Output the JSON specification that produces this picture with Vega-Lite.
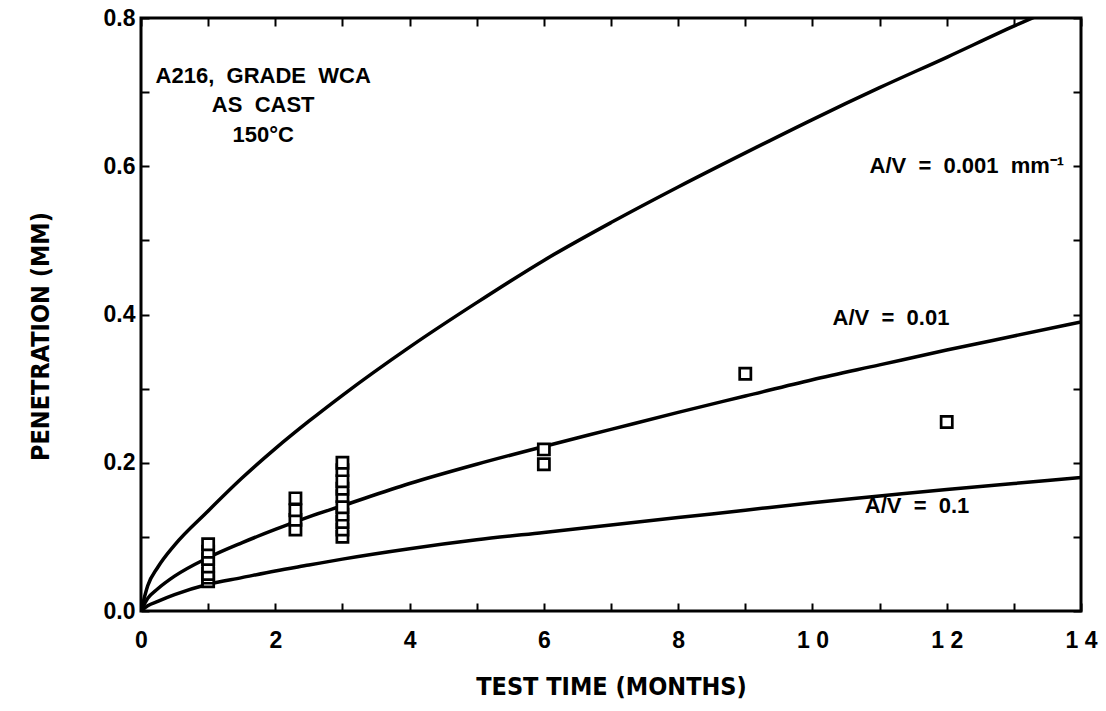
{
  "$schema": "https://vega.github.io/schema/vega-lite/v6.json",
  "width": 940,
  "height": 593,
  "autosize": {"type": "none"},
  "padding": {"left": 141, "top": 18, "right": 25, "bottom": 100},
  "background": "white",
  "config": {
    "view": {"stroke": "black", "strokeWidth": 3},
    "font": "Liberation Sans",
    "axis": {
      "grid": false,
      "domain": false,
      "tickColor": "black",
      "tickWidth": 2,
      "tickSize": -8,
      "labelFont": "Liberation Sans",
      "labelFontWeight": "bold",
      "labelFontSize": 23,
      "labelColor": "black",
      "titleFont": "DejaVu Sans Condensed, Liberation Sans Narrow, Liberation Sans",
      "titleFontWeight": "bold",
      "titleFontSize": 25,
      "titleColor": "black"
    }
  },
  "datasets": {
    "obs": [
      {"t": 1, "p": 0.04}, {"t": 1, "p": 0.045}, {"t": 1, "p": 0.05}, {"t": 1, "p": 0.06},
      {"t": 1, "p": 0.07}, {"t": 1, "p": 0.08}, {"t": 1, "p": 0.09},
      {"t": 2.3, "p": 0.11}, {"t": 2.3, "p": 0.123}, {"t": 2.3, "p": 0.136}, {"t": 2.3, "p": 0.152},
      {"t": 3, "p": 0.1}, {"t": 3, "p": 0.11}, {"t": 3, "p": 0.12}, {"t": 3, "p": 0.13},
      {"t": 3, "p": 0.14}, {"t": 3, "p": 0.155}, {"t": 3, "p": 0.165}, {"t": 3, "p": 0.175},
      {"t": 3, "p": 0.19}, {"t": 3, "p": 0.2},
      {"t": 6, "p": 0.198}, {"t": 6, "p": 0.218},
      {"t": 9, "p": 0.32},
      {"t": 12, "p": 0.255}
    ],
    "curves": [
      {"av": "0.001", "t": 0, "p": 0}, {"av": "0.001", "t": 0.1, "p": 0.034}, {"av": "0.001", "t": 0.25, "p": 0.059},
      {"av": "0.001", "t": 0.5, "p": 0.089}, {"av": "0.001", "t": 1, "p": 0.135}, {"av": "0.001", "t": 1.5, "p": 0.179},
      {"av": "0.001", "t": 2, "p": 0.219}, {"av": "0.001", "t": 2.5, "p": 0.256}, {"av": "0.001", "t": 3, "p": 0.291},
      {"av": "0.001", "t": 4, "p": 0.356}, {"av": "0.001", "t": 5, "p": 0.416}, {"av": "0.001", "t": 6, "p": 0.473},
      {"av": "0.001", "t": 7, "p": 0.524}, {"av": "0.001", "t": 8, "p": 0.572}, {"av": "0.001", "t": 9, "p": 0.618},
      {"av": "0.001", "t": 10, "p": 0.663}, {"av": "0.001", "t": 11, "p": 0.706}, {"av": "0.001", "t": 12, "p": 0.747},
      {"av": "0.001", "t": 13, "p": 0.789}, {"av": "0.001", "t": 14, "p": 0.828},
      {"av": "0.01", "t": 0, "p": 0}, {"av": "0.01", "t": 0.1, "p": 0.017}, {"av": "0.01", "t": 0.25, "p": 0.03},
      {"av": "0.01", "t": 0.5, "p": 0.047}, {"av": "0.01", "t": 1, "p": 0.072}, {"av": "0.01", "t": 1.5, "p": 0.092},
      {"av": "0.01", "t": 2, "p": 0.11}, {"av": "0.01", "t": 2.5, "p": 0.127}, {"av": "0.01", "t": 3, "p": 0.142},
      {"av": "0.01", "t": 4, "p": 0.172}, {"av": "0.01", "t": 5, "p": 0.198}, {"av": "0.01", "t": 6, "p": 0.222},
      {"av": "0.01", "t": 7, "p": 0.245}, {"av": "0.01", "t": 8, "p": 0.268}, {"av": "0.01", "t": 9, "p": 0.29},
      {"av": "0.01", "t": 10, "p": 0.312}, {"av": "0.01", "t": 11, "p": 0.332}, {"av": "0.01", "t": 12, "p": 0.352},
      {"av": "0.01", "t": 13, "p": 0.371}, {"av": "0.01", "t": 14, "p": 0.39},
      {"av": "0.1", "t": 0, "p": 0}, {"av": "0.1", "t": 0.1, "p": 0.007}, {"av": "0.1", "t": 0.25, "p": 0.013},
      {"av": "0.1", "t": 0.5, "p": 0.022}, {"av": "0.1", "t": 1, "p": 0.036}, {"av": "0.1", "t": 1.5, "p": 0.045},
      {"av": "0.1", "t": 2, "p": 0.054}, {"av": "0.1", "t": 2.5, "p": 0.062}, {"av": "0.1", "t": 3, "p": 0.07},
      {"av": "0.1", "t": 4, "p": 0.084}, {"av": "0.1", "t": 5, "p": 0.096}, {"av": "0.1", "t": 6, "p": 0.106},
      {"av": "0.1", "t": 7, "p": 0.116}, {"av": "0.1", "t": 8, "p": 0.126}, {"av": "0.1", "t": 9, "p": 0.136},
      {"av": "0.1", "t": 10, "p": 0.146}, {"av": "0.1", "t": 11, "p": 0.155}, {"av": "0.1", "t": 12, "p": 0.164},
      {"av": "0.1", "t": 13, "p": 0.172}, {"av": "0.1", "t": 14, "p": 0.18}
    ],
    "heading": [
      {"t": 1.82, "p": 0.722, "label": "A216,\u00a0\u00a0GRADE\u00a0\u00a0WCA"},
      {"t": 1.82, "p": 0.682, "label": "AS\u00a0\u00a0CAST"},
      {"t": 1.82, "p": 0.642, "label": "150°C"}
    ],
    "curvelabels": [
      {"t": 10.85, "p": 0.6, "label": "A/V\u00a0\u00a0=\u00a0\u00a00.001\u00a0\u00a0mm⁻¹"},
      {"t": 10.3, "p": 0.395, "label": "A/V\u00a0\u00a0=\u00a0\u00a00.01"},
      {"t": 10.78, "p": 0.142, "label": "A/V\u00a0\u00a0=\u00a0\u00a00.1"}
    ]
  },
  "resolve": {"axis": {"x": "independent", "y": "independent"}},
  "layer": [
    {
      "data": {"name": "curves"},
      "mark": {"type": "line", "color": "black", "strokeWidth": 3.5, "clip": true, "interpolate": "monotone"},
      "encoding": {
        "x": {"field": "t", "type": "quantitative", "scale": {"domain": [0, 14], "nice": false},
          "axis": {"title": "TEST TIME (MONTHS)", "values": [0,1,2,3,4,5,6,7,8,9,10,11,12,13,14],
            "labelExpr": "datum.value == 10 ? '1 0' : datum.value == 12 ? '1 2' : datum.value == 14 ? '1 4' : (datum.value % 2 == 0 ? datum.label : '')",
            "labelPadding": 26, "titlePadding": 22, "labelFlush": false}},
        "y": {"field": "p", "type": "quantitative", "scale": {"domain": [0, 0.8], "nice": false, "zero": true},
          "axis": {"title": "PENETRATION (MM)", "values": [0,0.1,0.2,0.3,0.4,0.5,0.6,0.7,0.8], "format": ".1f",
            "labelExpr": "round(datum.value*10) % 2 == 0 ? datum.label : ''",
            "labelPadding": 14, "titlePadding": 50, "titleY": 318, "labelFlush": false}},
        "detail": {"field": "av", "type": "nominal"}
      }
    },
    {
      "data": {"name": "obs"},
      "mark": {"type": "point", "shape": "square", "size": 125, "filled": false, "color": "black", "strokeWidth": 2.7, "fill": "white", "fillOpacity": 1},
      "encoding": {
        "x": {"field": "t", "type": "quantitative", "axis": {"orient": "top", "labels": false, "title": null, "values": [0,1,2,3,4,5,6,7,8,9,10,11,12,13,14]}},
        "y": {"field": "p", "type": "quantitative", "axis": {"orient": "right", "labels": false, "title": null, "values": [0,0.1,0.2,0.3,0.4,0.5,0.6,0.7,0.8]}}
      }
    },
    {
      "data": {"name": "heading"},
      "mark": {"type": "text", "align": "center", "baseline": "middle", "font": "Liberation Sans", "fontWeight": "bold", "fontSize": 22, "color": "black"},
      "encoding": {
        "x": {"field": "t", "type": "quantitative", "axis": null},
        "y": {"field": "p", "type": "quantitative", "axis": null},
        "text": {"field": "label"}
      }
    },
    {
      "data": {"name": "curvelabels"},
      "mark": {"type": "text", "align": "left", "baseline": "middle", "font": "Liberation Sans", "fontWeight": "bold", "fontSize": 22, "color": "black"},
      "encoding": {
        "x": {"field": "t", "type": "quantitative", "axis": null},
        "y": {"field": "p", "type": "quantitative", "axis": null},
        "text": {"field": "label"}
      }
    }
  ]
}
